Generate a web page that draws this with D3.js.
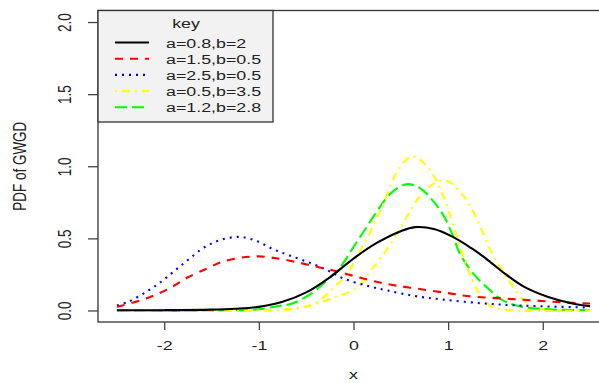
<!DOCTYPE html>
<html>
<head>
<meta charset="utf-8">
<script src="https://d3js.org/d3.v7.min.js"></script>
<style>
  body { margin: 0; background: white; }
  text { font-family: "Liberation Sans", Arial, sans-serif; }
</style>
</head>
<body>
<script>
const width = 599
const height = 383
const fontSize = 13.5
const stretch = 1.32 // the reference glyphs are wider than tall

// values
const xTicks = [-2, -1, 0, 1, 2]
const yTicks = [0, 0.5, 1, 1.5, 2]
const yTickLabels = ["0.0", "0.5", "1.0", "1.5", "2.0"]

const blackX = [-2.5, -2, -1.5, -1.25, -1, -0.75, -0.5, -0.25, 0, 0.25, 0.5, 0.65, 0.85, 1.05, 1.25, 1.4, 1.6, 1.8, 2.05, 2.3, 2.5]
const blackY = [0.001, 0.002, 0.006, 0.012, 0.025, 0.06, 0.125, 0.23, 0.36, 0.47, 0.55, 0.578, 0.565, 0.51, 0.43, 0.36, 0.255, 0.165, 0.095, 0.05, 0.03]

const redX = [-2.5, -2.25, -2.05, -1.9, -1.75, -1.55, -1.4, -1.2, -1.0, -0.8, -0.6, -0.4, -0.2, 0, 0.2, 0.4, 0.6, 1.0, 1.2, 1.6, 1.9, 2.2, 2.5]
const redY = [0.025, 0.07, 0.12, 0.17, 0.23, 0.29, 0.335, 0.365, 0.375, 0.36, 0.335, 0.305, 0.275, 0.24, 0.205, 0.178, 0.158, 0.12, 0.1, 0.082, 0.07, 0.056, 0.048]

const blueX = [-2.5, -2.38, -2.2, -2.05, -1.9, -1.75, -1.57, -1.4, -1.2, -1.02, -0.85, -0.67, -0.46, -0.28, -0.1, 0.15, 0.35, 0.65, 0.95, 1.35, 1.7, 2.1, 2.5]
const blueY = [0.035, 0.06, 0.125, 0.19, 0.27, 0.35, 0.44, 0.49, 0.51, 0.48, 0.425, 0.38, 0.33, 0.28, 0.22, 0.17, 0.14, 0.10, 0.075, 0.05, 0.036, 0.027, 0.02]

const yellowX = [-2.5, -1.0, -0.7, -0.55, -0.39, -0.22, -0.06, 0.04, 0.15, 0.31, 0.46, 0.62, 0.8, 0.95, 1.05, 1.18, 1.3, 1.45, 1.6, 2.5]
const yellowY = [0, 0, 0.005, 0.02, 0.055, 0.15, 0.26, 0.38, 0.51, 0.73, 0.96, 1.07, 0.98, 0.79, 0.6, 0.34, 0.15, 0.03, 0.005, 0]

const yellow2X = [-2.5, -1.0, -0.7, -0.46, -0.25, 0.04, 0.2, 0.35, 0.52, 0.7, 0.91, 1.02, 1.2, 1.34, 1.47, 1.62, 1.76, 1.9, 2.1, 2.5]
const yellow2Y = [0, 0, 0.01, 0.035, 0.08, 0.16, 0.29, 0.42, 0.6, 0.79, 0.9, 0.89, 0.76, 0.58, 0.39, 0.23, 0.10, 0.025, 0.005, 0]

const greenX = [-2.5, -1.5, -1.0, -0.8, -0.64, -0.43, -0.28, -0.14, 0, 0.14, 0.25, 0.39, 0.56, 0.7, 0.84, 0.95, 1.05, 1.12, 1.26, 1.41, 1.58, 1.79, 2.07, 2.5]
const greenY = [0, 0, 0.008, 0.03, 0.05, 0.125, 0.21, 0.30, 0.44, 0.58, 0.69, 0.81, 0.875, 0.85, 0.76, 0.66, 0.52, 0.40, 0.26, 0.16, 0.07, 0.025, 0.008, 0.002]

const series = [
    { label: "a=0.8,b=2", xs: blackX, ys: blackY, color: "#000000", dash: null },
    { label: "a=1.5,b=0.5", xs: redX, ys: redY, color: "#ff0000", dash: "8 7" },
    { label: "a=2.5,b=0.5", xs: blueX, ys: blueY, color: "#0000ff", dash: "2 5" },
    { label: "a=0.5,b=3.5", xs: yellowX, ys: yellowY, color: "#ffff00", dash: "2 5 8 5" },
    { label: "a=1.2,b=2.8", xs: greenX, ys: greenY, color: "#00ff00", dash: "12 5" },
    { label: null, xs: yellow2X, ys: yellow2Y, color: "#ffff00", dash: "2 5 8 5" }
]

const svg = d3.select("body").append("svg").attr("width", width).attr("height", height)

const x = d3.scaleLinear().domain([-2.7, 2.7]).range([98, 609])
const y = d3.scaleLinear().domain([-0.08, 2.08]).range([322, 10.5])

svg.append("clipPath").attr("id", "clip")
    .append("rect").attr("x", x.range()[0]).attr("y", y.range()[1])
    .attr("width", x.range()[1] - x.range()[0]).attr("height", y.range()[0] - y.range()[1])

const line = d3.line().x(d => x(d[0])).y(d => y(d[1])).curve(d3.curveCatmullRom)

// draw in reverse order so black ends up on top
svg.append("g").selectAll(".curve")
    .data(series.slice().reverse())
    .enter()
    .append("path")
    .attr("class", "curve")
    .attr("clip-path", "url(#clip)")
    .attr("d", s => line(s.xs.map((v, i) => [v, s.ys[i]])))
    .attr("fill", "none")
    .attr("stroke", s => s.color)
    .attr("stroke-width", 2.1)
    .attr("stroke-dasharray", s => s.dash)

// box
svg.append("rect")
    .attr("x", x.range()[0]).attr("y", y.range()[1])
    .attr("width", x.range()[1] - x.range()[0]).attr("height", y.range()[0] - y.range()[1])
    .attr("fill", "none").attr("stroke", "#333").attr("stroke-width", 1.3)

function stretchedText(parent, tx, ty, label, anchor, rotate) {
    return parent.append("text")
        .attr("transform", `translate(${tx},${ty}) scale(${stretch},1)${rotate ? " rotate(-90)" : ""}`)
        .attr("text-anchor", anchor)
        .attr("font-size", fontSize).attr("fill", "#222")
        .text(label)
}

// x axis
const xAxis = svg.append("g").attr("transform", `translate(0,${y.range()[0]})`)
    .call(d3.axisBottom(x).tickValues(xTicks).tickSize(8).tickSizeOuter(0).tickFormat(d => d))
xAxis.select(".domain").remove()
xAxis.selectAll("line").attr("stroke", "#444").attr("stroke-width", 1.3)
xAxis.selectAll("text")
    .attr("font-size", fontSize).attr("fill", "#222").attr("font-family", "Liberation Sans, Arial, sans-serif")
    .attr("y", null).attr("dy", null)
    .attr("transform", `translate(0,27.5) scale(${stretch},1)`)

// y axis
const yAxis = svg.append("g").attr("transform", `translate(${x.range()[0]},0)`)
    .call(d3.axisLeft(y).tickValues(yTicks).tickSize(10).tickSizeOuter(0).tickFormat((d, i) => yTickLabels[i]))
yAxis.select(".domain").remove()
yAxis.selectAll("line").attr("stroke", "#444").attr("stroke-width", 1.3)
yAxis.selectAll("text")
    .attr("font-size", fontSize).attr("fill", "#222").attr("font-family", "Liberation Sans, Arial, sans-serif")
    .attr("x", null).attr("dy", null)
    .attr("text-anchor", "middle")
    .attr("transform", `translate(-33,0) scale(${stretch},1) rotate(-90) translate(0,4.8)`)

// axis titles
stretchedText(svg, x(0), 379, "x", "middle", false)
stretchedText(svg, 26, (y.range()[0] + y.range()[1]) / 2, "PDF of GWGD", "middle", true)

// legend
const legendX = 98, legendY = 10.5, legendW = 175, legendH = 111.5
svg.append("rect").attr("x", legendX).attr("y", legendY).attr("width", legendW).attr("height", legendH)
    .attr("fill", "#f2f2f2").attr("stroke", "#333").attr("stroke-width", 1.3)
stretchedText(svg, legendX + 88, legendY + 17, "key", "middle", false)

const legendItems = series.filter(s => s.label)
const rows = svg.selectAll(".legend-row")
    .data(legendItems)
    .enter()
    .append("g")
    .attr("class", "legend-row")
    .attr("transform", (d, i) => `translate(${legendX}, ${legendY + 32 + i * 16.2})`)
rows.append("line").attr("x1", 17).attr("x2", 51).attr("y1", 0).attr("y2", 0)
    .attr("stroke", d => d.color).attr("stroke-width", 2.1).attr("stroke-dasharray", d => d.dash)
rows.each(function (d) { stretchedText(d3.select(this), 68, 5, d.label, "start", false) })
</script>
</body>
</html>
